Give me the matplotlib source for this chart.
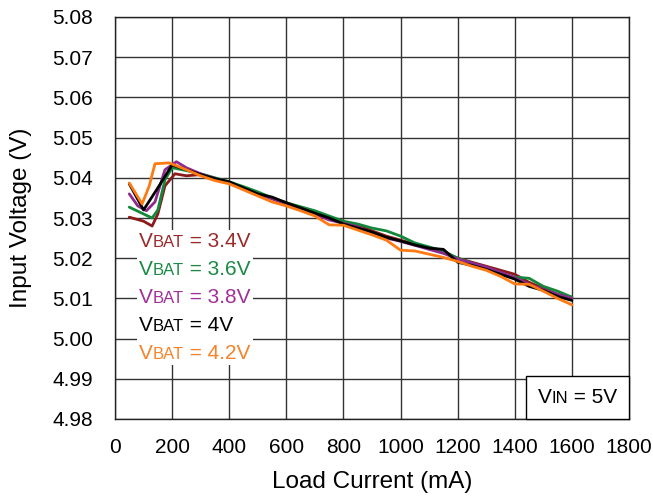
import matplotlib
matplotlib.use("Agg")
import matplotlib.pyplot as plt
from matplotlib.offsetbox import TextArea, HPacker, VPacker, AnchoredOffsetbox

plt.rcParams['font.family'] = ['Liberation Sans', 'DejaVu Sans']

# ---- data ----
tail_x = [300, 350, 400, 450, 500, 550, 600, 650, 700, 750, 800, 850, 900, 950,
          1000, 1050, 1100, 1150, 1200, 1250, 1300, 1350, 1400, 1450, 1500, 1550, 1600]

red_x = [50, 100, 130, 150, 175, 210, 250] + tail_x
red_y = [5.0302, 5.0292, 5.0280, 5.0310, 5.0380, 5.0410, 5.0405,
         5.0408, 5.0398, 5.0388, 5.0375, 5.0360, 5.0348, 5.0335, 5.0325, 5.0315, 5.0300,
         5.0290, 5.0282, 5.0268, 5.0255, 5.0245, 5.0235, 5.0225, 5.0215, 5.0200, 5.0190,
         5.0180, 5.0170, 5.0160, 5.0140, 5.0125, 5.0110, 5.0103]

green_x = [50, 100, 130, 150, 175, 200, 250] + tail_x
green_y = [5.0327, 5.0310, 5.0300, 5.0320, 5.0395, 5.0425, 5.0418,
           5.0410, 5.0400, 5.0390, 5.0378, 5.0365, 5.0350, 5.0338, 5.0328, 5.0318, 5.0305,
           5.0292, 5.0285, 5.0275, 5.0268, 5.0255, 5.0238, 5.0228, 5.0218, 5.0200, 5.0188,
           5.0175, 5.0160, 5.0153, 5.0150, 5.0130, 5.0118, 5.0103]

purple_x = [50, 80, 110, 140, 175, 215, 250] + tail_x
purple_y = [5.0360, 5.0330, 5.0318, 5.0340, 5.0420, 5.0440, 5.0425,
            5.0410, 5.0398, 5.0388, 5.0373, 5.0360, 5.0348, 5.0335, 5.0322, 5.0310, 5.0295,
            5.0287, 5.0278, 5.0262, 5.0250, 5.0242, 5.0232, 5.0222, 5.0212, 5.0198, 5.0188,
            5.0178, 5.0165, 5.0152, 5.0135, 5.0122, 5.0110, 5.0100]

black_x = [50, 100, 150, 200, 250] + tail_x
black_y = [5.0385, 5.0320, 5.0375, 5.0432, 5.0420,
           5.0408, 5.0398, 5.0390, 5.0375, 5.0360, 5.0352, 5.0338, 5.0325, 5.0312, 5.0300,
           5.0285, 5.0275, 5.0265, 5.0252, 5.0243, 5.0233, 5.0225, 5.0222, 5.0190, 5.0182,
           5.0172, 5.0160, 5.0148, 5.0130, 5.0120, 5.0105, 5.0095]

orange_x = [50, 95, 120, 140, 190, 250] + tail_x
orange_y = [5.0387, 5.0335, 5.0380, 5.0435, 5.0437, 5.0420,
            5.0405, 5.0393, 5.0385, 5.0370, 5.0355, 5.0340, 5.0330, 5.0318, 5.0305, 5.0283,
            5.0282, 5.0270, 5.0258, 5.0245, 5.0220, 5.0218, 5.0210, 5.0202, 5.0192, 5.0180,
            5.0170, 5.0155, 5.0136, 5.0135, 5.0118, 5.0100, 5.0084]

labels = ["3.4V", "3.6V", "3.8V", "4V", "4.2V"]
x_ticks = [0, 200, 400, 600, 800, 1000, 1200, 1400, 1600, 1800]
y_ticks = [4.98, 4.99, 5.00, 5.01, 5.02, 5.03, 5.04, 5.05, 5.06, 5.07, 5.08]

line_colors = ["#8B1A1A", "#13883A", "#8E2A8E", "#000000", "#FF7A12"]
text_colors = ["#9B2B2B", "#1A8A45", "#A0309A", "#000000", "#F5832A"]

# ---- plot ----
fig = plt.figure(figsize=(6.53, 5.0), dpi=100)
ax = fig.add_axes([115/653, 1 - 419/500, (629-115)/653, (419-17)/500])

series = [(red_x, red_y), (green_x, green_y), (purple_x, purple_y),
          (black_x, black_y), (orange_x, orange_y)]
for (xs, ys), c in zip(series, line_colors):
    ax.plot(xs, ys, color=c, lw=2.0, solid_joinstyle='round', solid_capstyle='round', zorder=3)

ax.set_xlim(0, 1800)
ax.set_ylim(4.98, 5.08)
ax.set_xticks(x_ticks)
ax.set_yticks(y_ticks)
ax.set_yticklabels([f"{v:.2f}" for v in y_ticks])
ax.tick_params(length=0, labelsize=15)
ax.tick_params(axis='x', pad=14)
ax.tick_params(axis='y', pad=16)
ax.grid(True, color="#333333", lw=1.0)
ax.set_axisbelow(True)
for s in ax.spines.values():
    s.set_color("#222222")
    s.set_linewidth(1.0)

ax.set_xlabel("Load Current (mA)", fontsize=17.5, labelpad=10)
ax.set_ylabel("Input Voltage (V)", fontsize=17.5, labelpad=14)

# legend-like text block
rows = []
for lab, c in zip(labels, text_colors):
    rows.append(HPacker(children=[
        TextArea("V", textprops=dict(color=c, fontsize=15)),
        TextArea("BAT", textprops=dict(color=c, fontsize=12)),
        TextArea(" = " + lab, textprops=dict(color=c, fontsize=15)),
    ], align="baseline", pad=0, sep=0))
vbox = VPacker(children=rows, align="left", pad=0, sep=6.5)
ab = AnchoredOffsetbox(loc="lower left", child=vbox, pad=0.15, borderpad=0,
                       frameon=True, bbox_to_anchor=(137/653, 1 - 365/500),
                       bbox_transform=fig.transFigure)
ab.patch.set_facecolor("white")
ab.patch.set_edgecolor("none")
ab.zorder = 4
ax.add_artist(ab)

# VIN box
vin = HPacker(children=[
    TextArea("V", textprops=dict(color="black", fontsize=15)),
    TextArea("IN", textprops=dict(color="black", fontsize=12)),
    TextArea(" = 5V", textprops=dict(color="black", fontsize=15)),
], align="baseline", pad=0, sep=0)
vin_outer = HPacker(children=[vin], align="baseline", pad=0, sep=0)
ab2 = AnchoredOffsetbox(loc="lower right", child=vin_outer, pad=0.85, borderpad=0,
                        frameon=True, bbox_to_anchor=(1, 0),
                        bbox_transform=ax.transAxes)
ab2.patch.set_facecolor("white")
ab2.patch.set_edgecolor("black")
ab2.patch.set_linewidth(1.0)
ab2.patch.set_boxstyle("square", pad=0.0)
ab2.zorder = 4
ax.add_artist(ab2)

fig.savefig("out.png", dpi=100)
